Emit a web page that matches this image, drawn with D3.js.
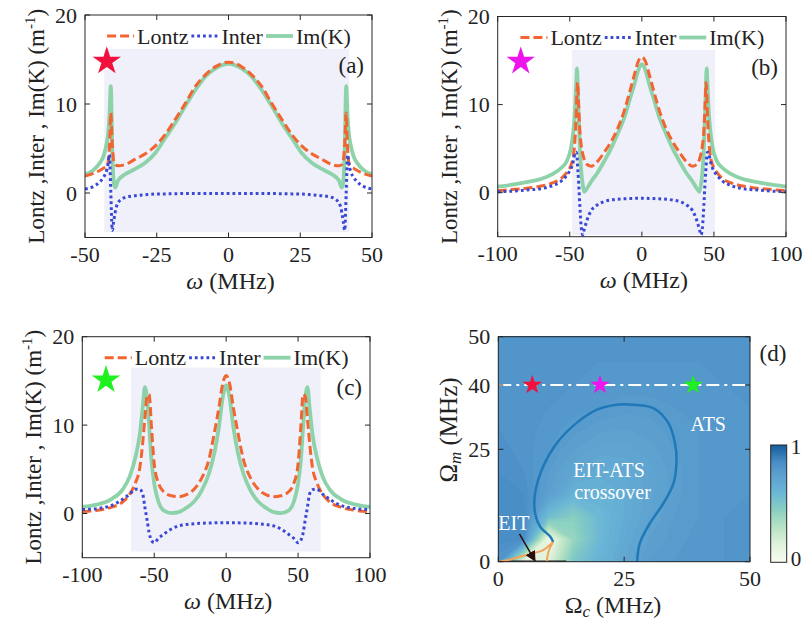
<!DOCTYPE html>
<html>
<head>
<meta charset="utf-8">
<script src="https://cdn.jsdelivr.net/npm/d3@7"></script>
<style>
  body { margin: 0; background: #fff; }
</style>
</head>
<body>
<svg id="fig" width="803" height="626"></svg>
<script>
// ---------- Data ----------
// Panel (a)
const omegaA = [-50,-47,-45,-43.5,-42.5,-42,-41.5,-41,-40.5,-40,-39.5,-38.5,-36,-32.5,-29,-25.5,-22,-18.5,-15,-11.5,-8,-4.5,-2,0,
  2,4.5,8,11.5,15,18.5,22,25.5,29,32.5,36,38.5,39.5,40,40.5,41,41.5,42,42.5,43.5,45,47,50];
const imkA = [2.1,2.6,3.3,4.2,5.5,6.5,8.5,12.0,5.0,1.2,0.6,1.4,2.1,2.7,3.4,4.5,6.2,7.9,9.8,11.6,13.1,14.0,14.4,14.5,
  14.4,14.0,13.1,11.6,9.8,7.9,6.2,4.5,3.4,2.7,2.1,1.4,0.6,1.2,5.0,12.0,8.5,6.5,5.5,4.2,3.3,2.6,2.1];
const lontzA = [1.9,2.2,2.5,2.8,3.0,3.3,5.0,9.0,5.5,3.6,3.2,3.05,3.2,3.8,4.4,5.3,6.6,8.3,10.1,12.0,13.3,14.2,14.6,14.7,
  14.6,14.2,13.3,12.0,10.1,8.3,6.6,5.3,4.4,3.8,3.2,3.05,3.2,3.6,5.5,9.0,5.0,3.3,3.0,2.8,2.5,2.2,1.9];
const interA = [0.45,0.75,1.2,1.8,2.5,3.2,4.3,0.0,-4.2,-3.2,-2.2,-1.1,-0.5,-0.3,-0.2,-0.12,-0.1,-0.08,-0.06,-0.05,-0.05,-0.05,-0.05,-0.05,
  -0.05,-0.05,-0.05,-0.05,-0.06,-0.08,-0.1,-0.12,-0.2,-0.3,-0.5,-1.1,-2.2,-3.2,-4.2,0.0,4.3,3.2,2.5,1.8,1.2,0.75,0.45];
const windowA = [-43.3, 42.1, -4.4, 16.2];
const starA = [-42.4, 14.8];

// Panel (b)
const omegaB = [-100,-90,-80,-70,-62,-56,-52,-49,-47.5,-46.5,-45.5,-45,-44.5,-44,-43,-42,-41,-40,-38,-35,-31,-26,-22,-17,-12,-8,-5,-2.5,0,
  2.5,5,8,12,17,22,26,31,35,38,40,41,42,43,44,44.5,45,45.5,46.5,47.5,49,52,56,62,70,80,90,100];
const imkB = [0.68,0.9,1.2,1.55,2.1,2.8,3.6,5.2,7.0,9.0,12.5,14.1,12.5,9.5,5.0,2.3,0.9,0.1,0.5,1.3,2.2,3.6,4.8,6.6,8.6,10.8,12.4,13.9,14.6,
  13.9,12.4,10.8,8.6,6.6,4.8,3.6,2.2,1.3,0.5,0.1,0.9,2.3,5.0,9.5,12.5,14.1,12.5,9.0,7.0,5.2,3.6,2.8,2.1,1.55,1.2,0.9,0.68];
const lontzB = [0.23,0.35,0.5,0.75,1.1,1.6,2.3,3.2,4.2,5.8,9.0,11.5,12.5,10.5,7.0,5.3,4.4,3.8,3.2,3.0,3.5,4.6,5.6,7.2,9.4,11.7,13.5,14.9,15.4,
  14.9,13.5,11.7,9.4,7.2,5.6,4.6,3.5,3.0,3.2,3.8,4.4,5.3,7.0,10.5,12.5,11.5,9.0,5.8,4.2,3.2,2.3,1.6,1.1,0.75,0.5,0.35,0.23];
const interB = [0.1,0.17,0.3,0.45,0.8,1.3,2.0,2.8,3.6,4.4,4.6,4.2,2.8,1.6,-1.5,-4.0,-4.8,-4.2,-3.1,-2.0,-1.4,-1.0,-0.85,-0.75,-0.7,-0.67,-0.65,-0.64,-0.64,
  -0.64,-0.65,-0.67,-0.7,-0.75,-0.85,-1.0,-1.4,-2.0,-3.1,-4.2,-4.8,-4.0,-1.5,1.6,2.8,4.2,4.6,4.4,3.6,2.8,2.0,1.3,0.8,0.45,0.3,0.17,0.1];
const windowB = [-48.5, 50.8, -4.8, 16.2];
const starB = [-84, 14.9];

// Panel (c)
const omegaC = [-100,-90,-80,-72,-67,-63,-60,-58,-56.5,-55,-53.5,-52,-50,-47,-43,-38,-33,-28,-22,-17,-12,-8,-5,-2.5,0,
  2.5,5,8,12,17,22,28,33,38,43,47,50,52,53.5,55,56.5,58,60,63,67,72,80,90,100];
const imkC = [0.75,1.0,1.6,2.7,4.2,6.4,9.0,12.0,14.3,13.0,9.8,6.2,3.4,1.3,0.3,0.05,0.15,0.6,1.4,2.6,4.5,7.0,9.8,13.0,14.5,
  13.0,9.8,7.0,4.5,2.6,1.4,0.6,0.15,0.05,0.3,1.3,3.4,6.2,9.8,13.0,14.3,12.0,9.0,6.4,4.2,2.7,1.6,1.0,0.75];
const lontzC = [0.2,0.35,0.7,1.3,2.2,3.5,5.2,8.0,10.8,13.2,13.5,10.0,5.6,3.4,2.4,2.0,1.9,2.1,2.8,4.0,6.1,9.3,12.0,14.6,15.6,
  14.6,12.0,9.3,6.1,4.0,2.8,2.1,1.9,2.0,2.4,3.4,5.6,10.0,13.5,13.2,10.8,8.0,5.2,3.5,2.2,1.3,0.7,0.35,0.2];
const interC = [0.45,0.55,0.9,1.6,2.2,2.75,2.7,2.2,0.7,-0.7,-2.2,-3.0,-3.3,-2.8,-2.3,-1.75,-1.4,-1.25,-1.15,-1.1,-1.07,-1.06,-1.05,-1.05,-1.05,
  -1.05,-1.05,-1.06,-1.07,-1.1,-1.15,-1.25,-1.4,-1.75,-2.3,-2.8,-3.3,-3.0,-2.2,-0.7,0.7,2.2,2.7,2.75,2.2,1.6,0.9,0.55,0.45];
const windowC = [-66.1, 65.7, -4.3, 16.5];
const starC = [-83.5, 15.1];

// Axis ticks
const ticksXA = [-50, -25, 0, 25, 50];
const ticksXBC = [-100, -50, 0, 50, 100];
const ticksY = [0, 10, 20];

// Panel (d): phase map on a 5 MHz grid, rows from Omega_m = 0 upward
const fieldOmegaC = [0,5,10,15,20,25,30,35,40,45,50];
const fieldOmegaM = [0,5,10,15,20,25,30,35,40,45,50];
const fieldRows = [
  [0.80,0.12,0.15,0.50,0.62,0.70,0.76,0.78,0.79,0.80,0.80],
  [0.85,0.84,0.05,0.40,0.58,0.68,0.74,0.77,0.79,0.80,0.80],
  [0.86,0.86,0.55,0.45,0.58,0.66,0.72,0.76,0.78,0.80,0.80],
  [0.85,0.84,0.74,0.62,0.62,0.66,0.71,0.75,0.78,0.79,0.80],
  [0.84,0.82,0.76,0.70,0.67,0.68,0.71,0.75,0.78,0.79,0.80],
  [0.83,0.81,0.78,0.74,0.71,0.71,0.73,0.76,0.78,0.79,0.80],
  [0.82,0.81,0.79,0.77,0.75,0.74,0.75,0.77,0.78,0.79,0.80],
  [0.81,0.80,0.80,0.79,0.78,0.77,0.77,0.78,0.79,0.79,0.80],
  [0.80,0.80,0.80,0.80,0.79,0.79,0.79,0.79,0.79,0.80,0.80],
  [0.80,0.80,0.80,0.80,0.80,0.80,0.80,0.80,0.80,0.80,0.80],
  [0.80,0.80,0.80,0.80,0.80,0.80,0.80,0.80,0.80,0.80,0.80]
];
// EIT-ATS crossover boundary (blue contour)
const loopC = [27.6,28.1,30.1,32.8,34.8,35.4,35.1,33.8,30.8,26.8,23.5,19.5,15.5,11.6,8.9,7.3,7.3,8.3,10.3,10.9];
const loopM = [0,4.1,8.5,13.0,17.4,22.6,26.4,31.1,34.6,35.4,35.4,34.2,31.1,26.4,21.1,15.2,10.8,7.8,5.6,4.45];
// EIT boundary (orange contour)
const eitC = [0,2,4.3,7.0,8.9,10.6,10.9,10.3,9.9,9.6];
const eitM = [0,0.4,1.1,1.9,2.6,4.1,4.45,3.2,1.9,0];
const dashLevel = 40;
const starsOmegaC = [6.75, 20.2, 38.7];
const mapTicksX = [0, 25, 50];
const mapTicksY = [0, 25, 40, 50];

// ---------- Styles ----------
const colLontz = '#f26430', colInter = '#3a48d6', colImK = '#8ed2aa';
const frameCol = '#262626';
const textCol = '#222';
const serif = '"Liberation Serif", "Times New Roman", serif';
const svg = d3.select('#fig');
svg.append('rect').attr('width', 803).attr('height', 626).attr('fill', '#fff');

const seriesStyle = {
  'Lontz': { color: colLontz, width: 3, dash: '9,4' },
  'Inter': { color: colInter, width: 3, dash: '2.8,3' },
  'Im(K)': { color: colImK, width: 3.8, dash: null }
};

function styleLine(sel, st) {
  sel.attr('fill', 'none').attr('stroke', st.color).attr('stroke-width', st.width);
  if (st.dash) sel.attr('stroke-dasharray', st.dash);
  return sel;
}

// every text goes through here so the serif face is set inline
function txt(g) {
  return g.append('text').style('font-family', serif).attr('fill', textCol);
}

function drawFrame(g, x, y, xt, yt) {
  const [l, r] = x.range();
  const yr = y.range(), b = yr[0], t = yr[yr.length - 1];
  const tl = 5;
  xt.forEach(v => {
    g.append('line').attr('x1', x(v)).attr('x2', x(v)).attr('y1', b).attr('y2', b - tl).attr('stroke', frameCol);
    g.append('line').attr('x1', x(v)).attr('x2', x(v)).attr('y1', t).attr('y2', t + tl).attr('stroke', frameCol);
  });
  yt.forEach(v => {
    g.append('line').attr('x1', l).attr('x2', l + tl).attr('y1', y(v)).attr('y2', y(v)).attr('stroke', frameCol);
    g.append('line').attr('x1', r).attr('x2', r - tl).attr('y1', y(v)).attr('y2', y(v)).attr('stroke', frameCol);
  });
  g.append('rect').attr('x', l).attr('y', t).attr('width', r - l).attr('height', b - t)
    .attr('fill', 'none').attr('stroke', frameCol).attr('stroke-width', 1);
  xt.forEach(v => {
    txt(g).attr('x', x(v)).attr('y', b + 24).attr('text-anchor', 'middle')
      .attr('font-size', 22).text(v);
  });
  yt.forEach(v => {
    txt(g).attr('x', l - 8).attr('y', y(v)).attr('dy', '0.35em').attr('text-anchor', 'end')
      .attr('font-size', 22).text(v);
  });
}

// Spectrum panels (a)-(c)
function drawSpectrum(p) {
  const x = d3.scaleLinear().domain(p.xDomain).range([p.left, p.right]);
  const y = d3.scaleLinear().domain([-5, 20]).range([p.bottom, p.top]);
  const g = svg.append('g');
  const clipId = 'clip' + p.label;
  svg.append('clipPath').attr('id', clipId).append('rect')
    .attr('x', p.left).attr('y', p.top).attr('width', p.right - p.left).attr('height', p.bottom - p.top);

  g.append('rect')
    .attr('x', x(p.win[0])).attr('width', x(p.win[1]) - x(p.win[0]))
    .attr('y', y(p.win[3])).attr('height', y(p.win[2]) - y(p.win[3]))
    .attr('fill', '#eff0fa');

  const series = [
    ['Im(K)', p.imk], ['Lontz', p.lontz], ['Inter', p.inter]
  ];
  series.forEach(([name, vals]) => {
    const line = d3.line().x((d, i) => x(p.omega[i])).y(d => y(d)).curve(d3.curveMonotoneX);
    styleLine(g.append('path').datum(vals).attr('clip-path', `url(#${clipId})`).attr('d', line), seriesStyle[name]);
  });

  drawFrame(g, x, y, p.xTicks, ticksY);

  // star marker
  g.append('path').attr('d', d3.symbol(d3.symbolStar, 250)())
    .attr('transform', `translate(${x(p.star[0])},${y(p.star[1])})`)
    .attr('fill', p.starColor);

  // panel tag
  txt(g).attr('x', p.right - 8).attr('y', p.top + 58).attr('text-anchor', 'end')
    .attr('font-size', 23).text(`(${p.label})`);

  // legend
  const lg = g.append('g');
  let cx = 0;
  ['Lontz', 'Inter', 'Im(K)'].forEach(name => {
    styleLine(lg.append('line').attr('x1', cx).attr('x2', cx + 27).attr('y1', 0).attr('y2', 0), seriesStyle[name]);
    const t = txt(lg).attr('x', cx + 30).attr('y', 0).attr('dy', '0.35em')
      .attr('font-size', 22).text(name);
    cx += 30 + t.node().getComputedTextLength() + 3;
  });
  lg.attr('transform', `translate(${(p.left + p.right) / 2 - cx / 2 + 2},${p.top + 21})`);

  // axis labels
  const xl = txt(g).attr('x', (p.left + p.right) / 2 + 2).attr('y', p.bottom + 51)
    .attr('text-anchor', 'middle').attr('font-size', 24);
  xl.append('tspan').attr('font-style', 'italic').text('ω');
  xl.append('tspan').text(' (MHz)');

  const cy = (p.top + p.bottom) / 2, lx = p.left - 49;
  const yl = txt(g).attr('transform', `translate(${lx},${cy}) rotate(-90)`)
    .attr('text-anchor', 'middle').attr('dy', '0.35em').attr('font-size', 23);
  yl.append('tspan').text('Lontz ,Inter , Im(K) (m');
  yl.append('tspan').attr('font-size', 15).attr('dy', -9).text('-1');
  yl.append('tspan').attr('dy', 9).text(')');
}

drawSpectrum({ label: 'a', left: 85, right: 372, top: 15, bottom: 237.5, xDomain: [-50, 50], xTicks: ticksXA,
  omega: omegaA, imk: imkA, lontz: lontzA, inter: interA, win: windowA, star: starA, starColor: '#f2113d' });
drawSpectrum({ label: 'b', left: 497.7, right: 786, top: 16.5, bottom: 236.7, xDomain: [-100, 100], xTicks: ticksXBC,
  omega: omegaB, imk: imkB, lontz: lontzB, inter: interB, win: windowB, star: starB, starColor: '#ee14ee' });
drawSpectrum({ label: 'c', left: 82.3, right: 370, top: 336.7, bottom: 557.7, xDomain: [-100, 100], xTicks: ticksXBC,
  omega: omegaC, imk: imkC, lontz: lontzC, inter: interC, win: windowC, star: starC, starColor: '#1ff01f' });

// ---------- Panel (d) ----------
const cmap = d3.scaleLinear()
  .domain([0, 0.15, 0.3, 0.45, 0.6, 0.75, 0.85, 1])
  .range(['#f7fcf0', '#e0f3db', '#b8e3c5', '#88cfc2', '#6ab5d6', '#5c9fcf', '#4a8ec6', '#135d9c']);

const dL = 498.3, dR = 750, dT = 336.7, dB = 561.7;
const xM = d3.scaleLinear().domain([0, 50]).range([dL, dR]);
const yM = d3.scaleLinear().domain([0, 25, 40, 50]).range([dB, 449.3, 385, dT]);
const gd = svg.append('g');
svg.append('clipPath').attr('id', 'clipd').append('rect')
  .attr('x', dL).attr('y', dT).attr('width', dR - dL).attr('height', dB - dT);

const nC = fieldOmegaC.length, nM = fieldOmegaM.length;
const gridToC = d3.scaleLinear().domain([0.5, nC - 0.5]).range([fieldOmegaC[0], fieldOmegaC[nC - 1]]);
const gridToM = d3.scaleLinear().domain([0.5, nM - 0.5]).range([fieldOmegaM[0], fieldOmegaM[nM - 1]]);
const proj = d3.geoTransform({
  point(px, py) { this.stream.point(xM(gridToC(px)), yM(gridToM(py))); }
});
const bands = d3.contours().size([nC, nM]).thresholds(d3.range(0, 1.0001, 0.02))(fieldRows.flat());
const heat = gd.append('g').attr('clip-path', 'url(#clipd)');
heat.selectAll('path').data(bands).join('path')
  .attr('d', d3.geoPath(proj))
  .attr('fill', d => cmap(d.value + 0.01))
  .attr('stroke', d => cmap(d.value + 0.01)).attr('stroke-width', 0.6);

const over = gd.append('g').attr('clip-path', 'url(#clipd)');
// black zero line along bottom
over.append('line').attr('x1', xM(0)).attr('x2', xM(13.5)).attr('y1', yM(0)).attr('y2', yM(0))
  .attr('stroke', '#1a1a1a').attr('stroke-width', 2.5);
// EIT region contour
over.append('path').datum(eitC.map((c, i) => [c, eitM[i]]))
  .attr('d', d3.line().x(d => xM(d[0])).y(d => yM(d[1])).curve(d3.curveCatmullRom))
  .attr('fill', 'none').attr('stroke', '#f3a45a').attr('stroke-width', 2);
// crossover contour
over.append('path').datum(loopC.map((c, i) => [c, loopM[i]]))
  .attr('d', d3.line().x(d => xM(d[0])).y(d => yM(d[1])).curve(d3.curveCatmullRom))
  .attr('fill', 'none').attr('stroke', '#1f78b8').attr('stroke-width', 2.5);
// dash-dot line at Omega_m = 40
over.append('line').attr('x1', xM(0)).attr('x2', xM(50)).attr('y1', yM(dashLevel)).attr('y2', yM(dashLevel))
  .attr('stroke', '#fff').attr('stroke-width', 2).attr('stroke-dasharray', '13,5,3,5');
const starCols = ['#f2113d', '#ee14ee', '#1ff01f'];
starsOmegaC.forEach((c, i) => {
  over.append('path').attr('d', d3.symbol(d3.symbolStar, 120)())
    .attr('transform', `translate(${xM(c)},${yM(dashLevel)})`).attr('fill', starCols[i]);
});

// annotations
const ann = (t, c, m) => txt(gd).attr('x', xM(c)).attr('y', yM(m)).attr('dy', '0.35em')
  .attr('text-anchor', 'middle').attr('font-size', 20).attr('fill', '#fff').text(t);
ann('EIT-ATS', 22.0, 20.4);
ann('crossover', 22.7, 15.6);
ann('ATS', 41.7, 30.8);
ann('EIT', 3.1, 8.5);
svg.append('defs').append('marker').attr('id', 'arr').attr('viewBox', '0 0 10 10')
  .attr('refX', 9).attr('refY', 5).attr('markerWidth', 7).attr('markerHeight', 7).attr('orient', 'auto')
  .append('path').attr('d', 'M0,0 L10,5 L0,10 z').attr('fill', '#2b0f0f');
gd.append('line').attr('x1', xM(4.2)).attr('y1', yM(6.2)).attr('x2', xM(7.3)).attr('y2', yM(0.2))
  .attr('stroke', '#2b0f0f').attr('stroke-width', 1.5).attr('marker-end', 'url(#arr)');

drawFrame(gd, xM, yM, mapTicksX, mapTicksY);
txt(gd).attr('x', 773).attr('y', dT + 24).attr('text-anchor', 'middle').attr('font-size', 23).text('(d)');

const xlab = txt(gd).attr('x', 613).attr('y', dB + 51).attr('text-anchor', 'middle').attr('font-size', 24);
xlab.append('tspan').text('Ω');
xlab.append('tspan').attr('font-style', 'italic').attr('font-size', 17).attr('dy', 4).text('c');
xlab.append('tspan').attr('dy', -4).text(' (MHz)');
const ylab = txt(gd).attr('transform', `translate(${dL - 50},430) rotate(-90)`)
  .attr('text-anchor', 'middle').attr('dy', '0.35em').attr('font-size', 25);
ylab.append('tspan').text('Ω');
ylab.append('tspan').attr('font-style', 'italic').attr('font-size', 17).attr('dy', 4).text('m');
ylab.append('tspan').attr('dy', -4).text(' (MHz)');

// colorbar
const cbL = 770.7, cbR = 786.7, cbT = 445, cbB = 562.3;
const grad = svg.append('defs').append('linearGradient').attr('id', 'cbgrad')
  .attr('x1', 0).attr('y1', 1).attr('x2', 0).attr('y2', 0);
d3.range(0, 1.0001, 0.05).forEach(v => {
  grad.append('stop').attr('offset', v).attr('stop-color', cmap(v));
});
svg.append('rect').attr('x', cbL).attr('y', cbT).attr('width', cbR - cbL).attr('height', cbB - cbT)
  .attr('fill', 'url(#cbgrad)').attr('stroke', frameCol).attr('stroke-width', 1);
txt(svg).attr('x', cbR + 4).attr('y', cbT + 2).attr('dy', '0.35em').attr('font-size', 21).text('1');
txt(svg).attr('x', cbR + 4).attr('y', cbB - 4).attr('dy', '0.35em').attr('font-size', 21).text('0');
</script>
</body>
</html>
